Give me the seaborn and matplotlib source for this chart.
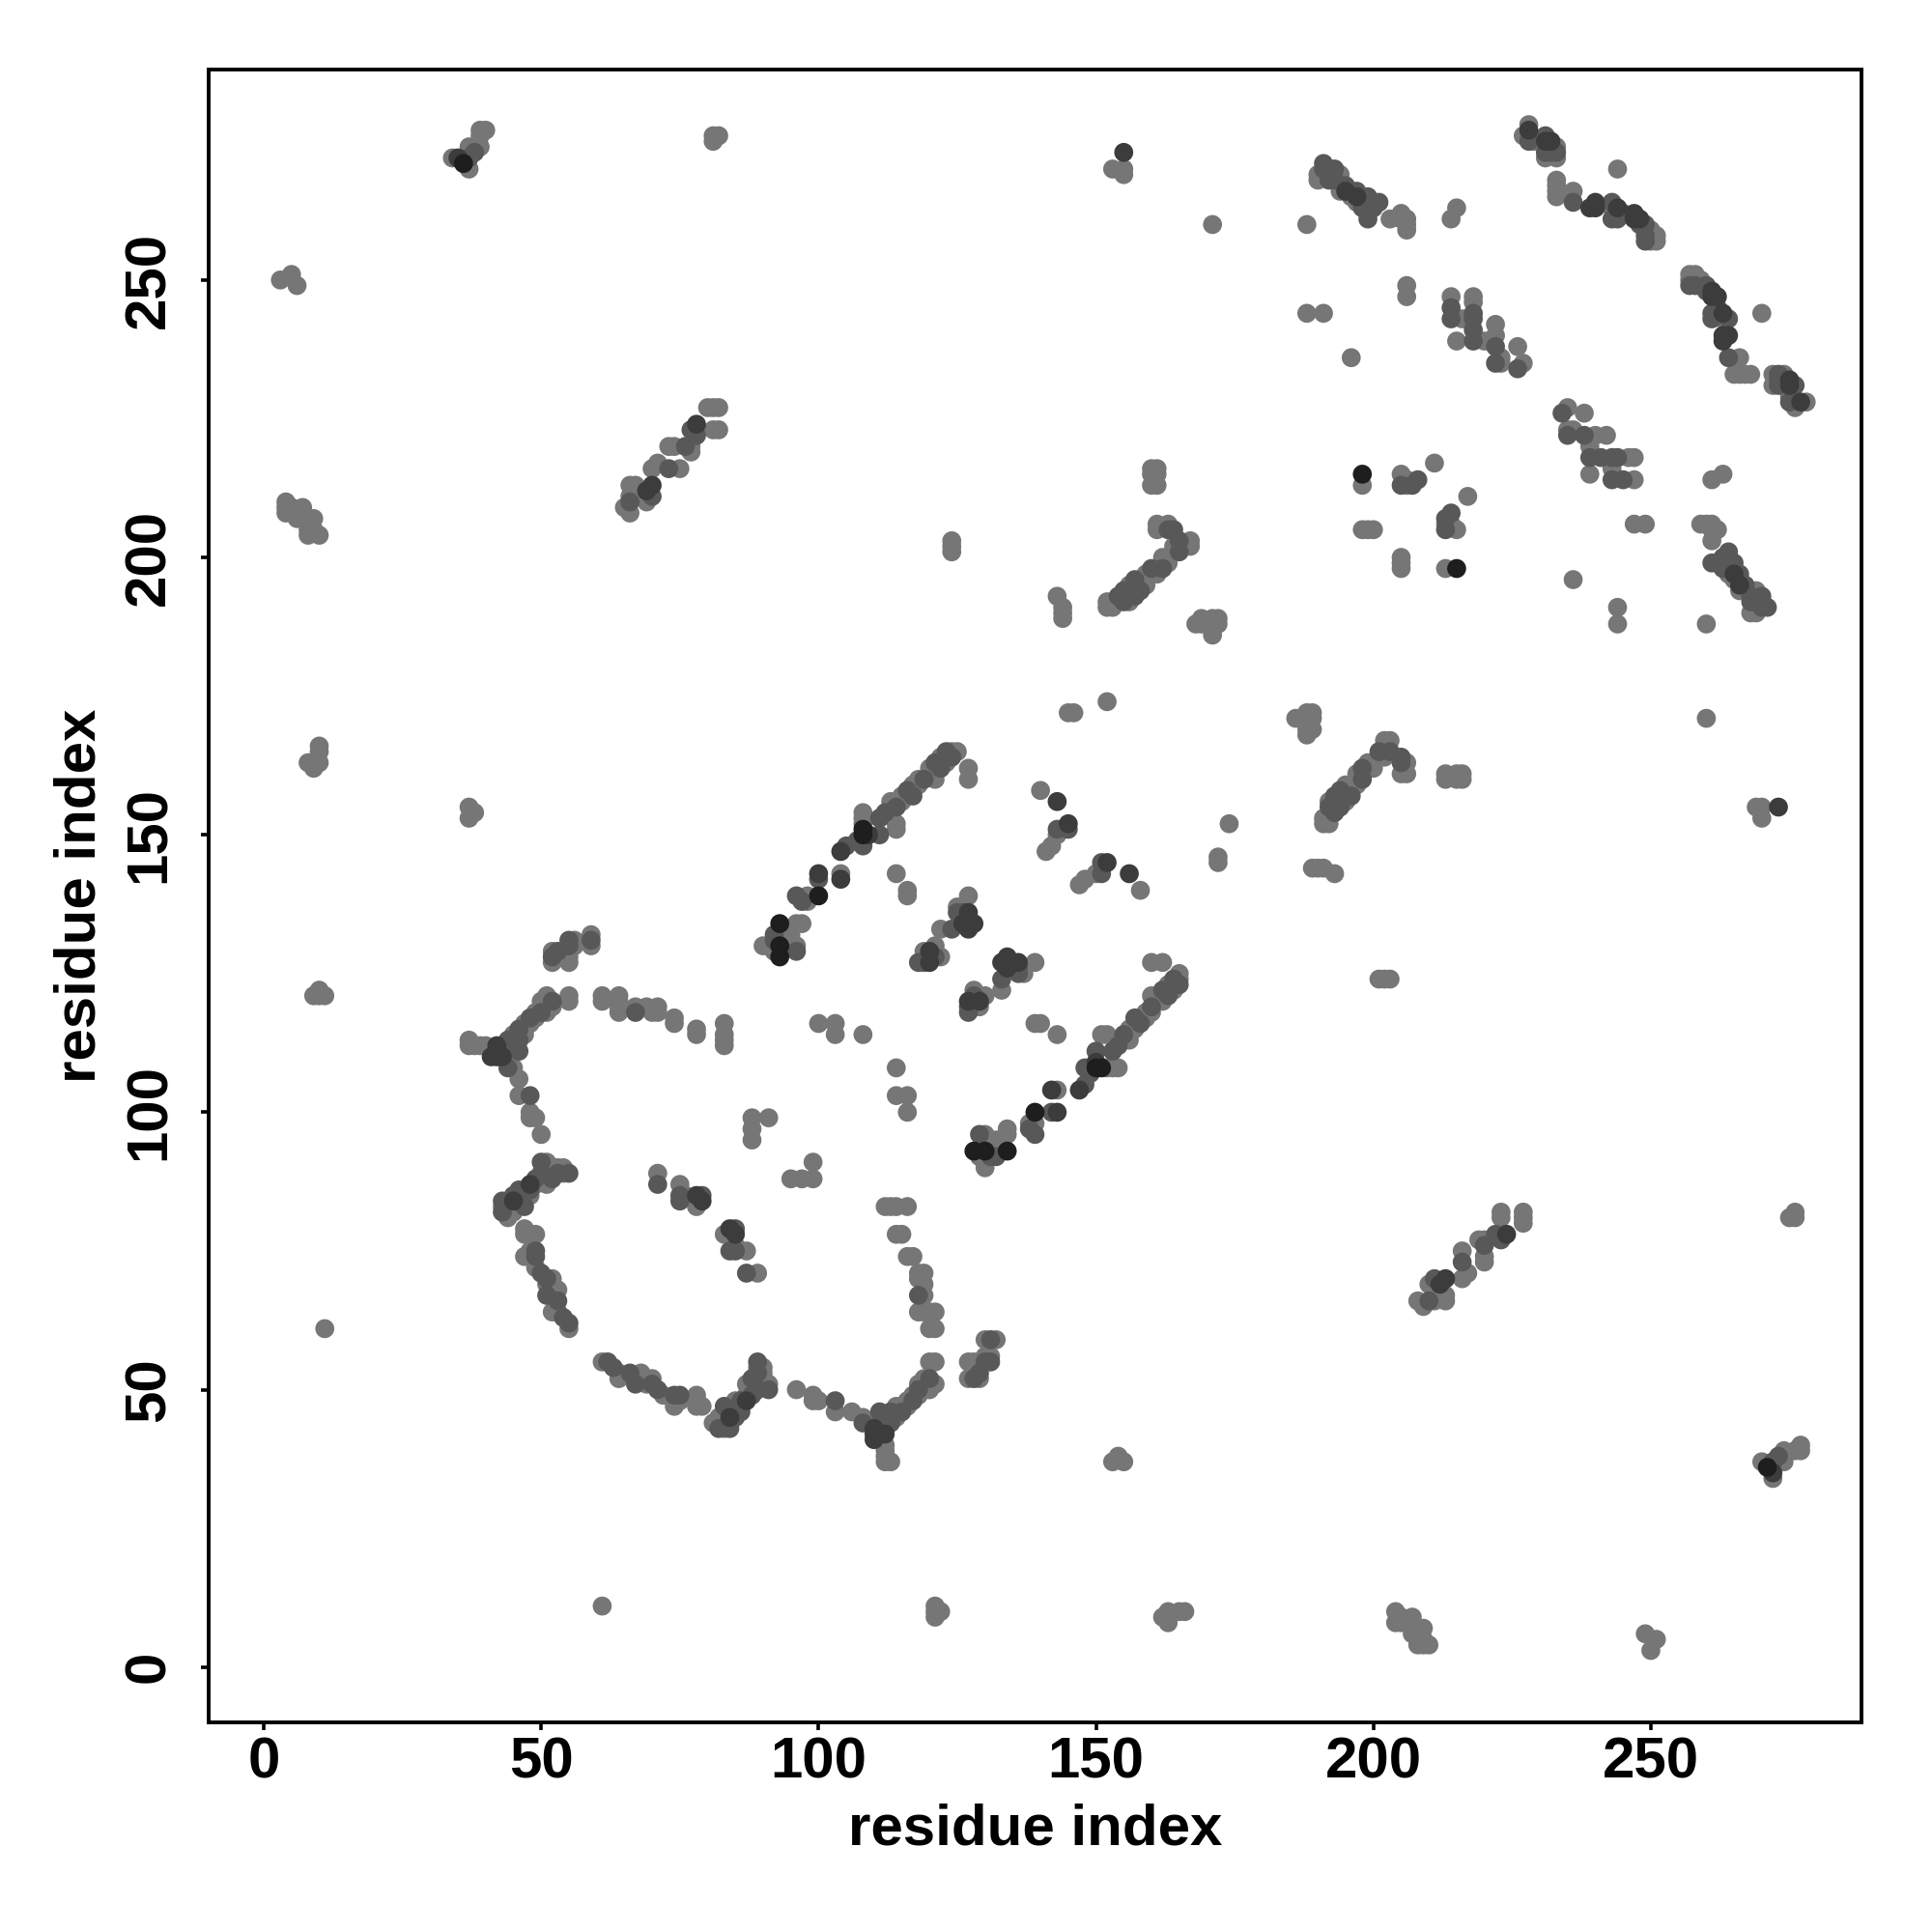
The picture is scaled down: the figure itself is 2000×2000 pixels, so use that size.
import matplotlib
matplotlib.use("Agg")
import matplotlib.pyplot as plt
import pandas as pd
import seaborn as sns

tick_values = [0, 50, 100, 150, 200, 250]
axis_label = "residue index"

contacts_far_corners = [
(34,272),(35,272),(36,271),(37,272),(37,274),(37,270),(38,273),(38,274),(39,274),(39,276),(39,277),(40,277),
(81,276),(81,275),(82,276),(3,250),(5,251),(6,249),
(4,210),(4,209),(4,208),(5,209),(6,207),(6,208),(7,209),(7,207),(8,205),(8,204),(9,207),(9,205),(10,204),
(8,163),(9,162),(10,163),(10,165),(10,166),(37,155),(37,153),(38,154),(9,121),(10,121),(10,122),(11,121),(11,61),
(153,270),(155,269),(155,273),(155,270),(171,260),
]
contacts_strand_a = [
(65,209),(66,208),(66,210),(66,211),(66,213),(67,211),(67,213),(69,210),(69,212),(70,213),(70,211),(70,216),(71,217),
(73,216),(73,220),(74,220),(75,216),(76,220),(77,219),(77,220),(77,223),(78,224),(78,222),(80,227),(81,223),(81,227),(82,223),(82,227),
]
contacts_upper_right = [
(188,260),(188,244),(191,244),(196,236),
(190,268),(191,270),(192,268),(192,270),(193,268),(194,269),(194,266),(195,267),(196,265),(197,264),(197,266),(199,262),(199,265),(200,263),(200,264),(201,264),(203,261),(205,261),(206,259),(206,261),
(214,261),(215,263),(206,249),(206,247),
(214,247),(214,245),(214,243),(215,239),(216,243),(218,246),(218,243),(218,241),(218,239),(220,239),(222,242),(222,238),(222,235),(223,235),(226,238),(226,234),(227,235),
(227,276),(228,277),(229,275),(231,273),(231,275),(232,275),(233,273),(233,267),(233,265),(236,266),(236,264),(239,263),(240,263),(243,263),(243,261),(244,270),(244,263),(245,262),(247,261),(248,260),(249,258),(250,259),(250,257),(251,258),(251,257),(249,257),
(257,250),(258,249),(259,250),(260,249),(261,248),(261,244),(262,247),(263,244),(263,240),(264,243),(264,240),(264,236),(266,236),(266,233),(268,233),(270,244),
(272,231),(272,233),(273,232),(274,233),(275,232),(275,228),(276,227),(277,228),(276,231),(278,228),
(234,226),(235,222),(235,227),(236,223),(238,226),(238,222),(239,218),(239,215),(240,222),(242,222),(243,218),(243,214),(244,218),(247,218),(247,214),(245,214),(247,206),(249,206),
(260,206),(261,214),(263,215),(262,205),(261,203),(261,199),(262,199),(263,198),(264,200),(265,197),(266,197),(266,195),(267,195),(268,193),(269,190),(270,193),(271,191),(260,188),(260,171),
(236,196),(244,191),(244,188),
(198,215),(198,213),(198,205),(199,205),(200,205),(205,215),(205,213),(206,214),(207,213),(208,214),(211,217),(205,199),(205,198),(213,198),(215,198),(214,208),(213,207),(213,205),(215,205),(213,206),
]
contacts_middle = [
(160,216),(160,215),(160,213),(161,205),(163,205),(164,205),(165,202),(165,201),(167,202),
(152,191),(152,192),(154,193),(155,192),(156,193),(157,195),(157,193),(158,194),(159,196),(160,198),(161,197),(162,198),(163,199),(164,201),
(143,193),(144,190),(144,189),(124,202),(124,201),(146,172),(145,172),(152,174),
(168,188),(169,189),(171,186),(171,187),(172,189),(172,188),(187,171),(188,169),(189,169),(189,172),(189,171),
(191,153),(192,155),(192,156),(193,157),(194,155),(195,156),(195,159),(196,157),(197,159),(197,161),(198,160),(199,162),(200,162),(202,164),(203,167),(203,165),(205,163),(206,161),(206,163),
(213,161),(215,161),(216,161),(189,144),(191,144),(193,143),(202,124),(203,124),(174,152),(172,146),(172,145),
(140,158),(143,156),(143,151),(145,152),(145,151),(141,147),(142,148),(147,141),(148,142),(150,143),(151,145),(152,145),(156,143),(158,140),
(127,162),(127,160),
]
contacts_band = [
(90,130),(92,129),(92,131),(93,128),(93,130),(93,134),(94,130),(96,129),(96,134),(97,134),(97,138),(98,138),(100,143),(100,142),(100,139),(104,142),(104,147),(105,148),(108,150),(108,153),(109,150),(111,150),(112,154),(113,155),(114,155),(114,152),(115,156),(116,158),(117,157),(118,159),(119,160),(120,161),(121,160),(122,162),(123,163),(124,164),(125,165),(124,165),
(114,143),(116,139),
(119,127),(120,127),(120,129),(121,128),(122,128),(124,133),(125,136),(126,134),(126,136),(127,133),(127,136),(127,139),(128,134),(127,120),(127,118),(128,121),(129,120),(129,119),(130,121),
(133,122),(133,124),(133,127),(134,126),(135,127),(136,125),(137,125),(139,127),(140,116),(143,114),
(128,93),(129,92),(130,91),(130,96),(130,90),(131,92),(132,95),(132,92),(134,93),(134,97),(139,96),(139,98),(142,100),(142,104),(143,104),(143,100),(147,104),(148,108),(149,107),(150,111),(151,108),(151,114),(152,108),(153,111),(154,112),(154,108),(155,114),(156,113),(157,115),(158,116),(159,117),(160,118),(160,127),(162,127),(162,120),(163,121),(164,122),(165,123),
]
contacts_lobe = [
(37,112),(38,112),(40,112),(41,110),(42,110),(43,111),(44,112),(45,114),(45,113),(46,113),(47,115),(47,116),(48,117),(49,118),(50,118),(51,118),(52,119),(52,120),(55,120),(52,129),(52,128),(55,128),(55,130),(56,130),(59,131),(59,130),
(61,120),(64,120),(64,118),(67,118),(70,118),(71,118),(74,116),(78,114),(83,114),(83,112),
(44,108),(45,108),(46,106),(46,103),(48,103),(48,100),(49,99),(50,96),
(43,83),(43,82),(44,83),(45,82),(45,85),(46,84),(46,86),(47,85),(48,86),(49,87),(50,88),(50,89),(51,90),(52,88),(53,90),(54,89),(55,89),
(47,78),(48,75),(49,78),(49,75),(49,74),(50,71),(51,70),(52,70),(51,67),(52,68),(53,68),(53,66),(53,64),(54,63),(55,62),(55,61),
(61,55),(62,55),(63,54),(64,53),(64,52),(67,52),(67,51),(68,52),(69,51),(71,50),(72,49),(74,47),(74,49),(75,49),(78,48),(79,47),(81,44),(82,44),(83,47),(84,43),(84,45),(85,48),(86,46),(87,48),(87,51),(88,49),(88,51),(89,53),(90,54),(90,52),(91,51),(91,50),(96,50),(99,48),(100,48),(103,48),(103,46),(106,46),(108,45),(110,43),(110,41),(111,46),(111,44),(112,42),(112,39),(113,37),(112,37),(113,44),(114,45),(114,47),(115,46),(116,48),(117,49),(118,50),(119,51),(120,50),(120,52),(121,51),(121,55),
(113,83),(116,83),(115,78),(117,74),(119,71),(119,69),(119,67),(119,64),(121,64),(121,61),
(127,55),(127,52),(129,52),(129,53),(130,59),(130,56),(131,55),(132,59),(131,56),
(71,89),(71,87),(75,85),(75,87),(76,85),(78,85),(79,85),(83,78),(84,79),(84,75),(85,78),(87,75),(87,71),(89,71),
(88,99),(88,95),(91,99),(95,88),(97,88),(99,91),(99,88),
(100,116),(103,114),(103,116),(108,114),(114,108),(114,103),(116,103),(116,100),
]

shade_black = [(93,134),(93,128),(100,139),(93,130),(108,150),(108,151),(134,93),(36,271),(198,215),(215,198)]
shade_dark = [(109,150),(155,273),(228,277),(231,275),(232,275),(239,263),(240,263),(263,240),(263,244),(264,240),
              (247,261),(261,248),(262,247),(272,232),(275,232),(195,266),(197,265),(35,272),(78,224),(127,136),(128,134),
              (120,127),(120,129),(133,127),(134,126),(129,120),(143,156),(145,152),(104,142),(104,147),(100,143),
              (84,79),(85,78),(70,213),(69,212),(110,41),(110,43),(112,42),(84,45),(87,48),(41,110),(42,110),(155,273)]
shade_mid = [(37,272),(38,273),(66,210),(70,211),(73,216),(77,223),(78,222),(76,220),(191,270),(192,268),(195,267),(197,266),(199,265),
             (200,263),(201,264),(214,245),(218,243),(218,241),(222,238),(222,235),(226,234),(231,273),(233,273),(236,264),(243,261),
             (244,263),(245,262),(248,260),(249,257),(258,249),(260,249),(261,244),(264,243),(264,236),(273,232),(276,231),(275,228),
             (235,222),(238,222),(239,218),(243,218),(244,218),(243,214),(261,199),(263,198),(264,200),(266,197),(268,193),(270,193),(271,191),
             (213,207),(214,208),(205,213),(207,213),(154,193),(157,193),(158,194),(160,198),(162,198),(165,201),(164,205),
             (192,155),(194,155),(196,157),(198,160),(203,165),(205,163),(143,151),(151,145),(152,145),
             (92,131),(96,129),(97,138),(105,148),(111,150),(112,154),(114,155),(117,157),(119,160),(122,162),(124,164),
             (124,133),(126,136),(127,133),(119,127),(121,128),(128,121),(127,118),(133,124),(136,125),
             (132,92),(131,92),(139,96),(142,100),(147,104),(149,107),(153,111),(155,114),(158,116),(163,121),(165,123),
             (43,111),(44,112),(46,113),(48,117),(50,118),(52,120),(52,128),(55,130),(59,131),(67,118),
             (44,108),(48,103),(43,82),(45,85),(46,84),(48,86),(50,89),(52,88),(55,89),(49,75),(51,70),(53,66),(55,62),
             (63,54),(67,51),(71,50),(74,49),(83,47),(84,43),(86,46),(88,49),(89,53),(91,50),(111,46),(113,44),(115,46),(118,50),(120,52),
             (75,85),(78,85),(79,85),(84,75),(87,71),(129,53),(131,55),(148,108),(216,74)]

all_pairs = (contacts_far_corners + contacts_strand_a + contacts_upper_right
             + contacts_middle + contacts_band + contacts_lobe)


def canon(p):
    return (min(p), max(p))


shade_of = {}
for name, pairs in [("mid", shade_mid), ("dark", shade_dark), ("black", shade_black)]:
    for p in pairs:
        shade_of[canon(p)] = name

half = pd.DataFrame(sorted({canon(p) for p in all_pairs}), columns=["i", "j"])
half["shade"] = [shade_of.get((a, b), "base") for a, b in zip(half["i"], half["j"])]
full = pd.concat([half, half.rename(columns={"i": "j", "j": "i"})], ignore_index=True)
shade_rank = {"base": 0, "mid": 1, "dark": 2, "black": 3}
full["rank"] = full["shade"].map(shade_rank)
full = full.sort_values(["rank", "j", "i"]).reset_index(drop=True)

shade_colors = {"base": "#767676", "mid": "#585858", "dark": "#3c3c3c", "black": "#1e1e1e"}

sns.set_theme(style="white")
plt.rcParams["font.family"] = ["Liberation Sans", "DejaVu Sans"]

fig = plt.figure(figsize=(10, 10), dpi=200)
ax = fig.add_axes([0.1078, 0.1084, 0.8558, 0.8558])
sns.scatterplot(data=full, x="i", y="j", hue="shade", palette=shade_colors,
                s=50, linewidth=0, legend=False, ax=ax)

ax.set_xlim(-10, 288)
ax.set_ylim(-10, 288)
ax.set_xticks(tick_values)
ax.set_yticks(tick_values)
ax.tick_params(axis="both", direction="out", length=3, width=1.3, color="black",
               labelsize=21.6, labelcolor="black", bottom=True, left=True)
ax.tick_params(axis="x", pad=2.2)
ax.tick_params(axis="y", pad=9)
for lab in ax.get_xticklabels():
    lab.set_fontweight("bold")
for lab in ax.get_yticklabels():
    lab.set_fontweight("bold")
    lab.set_rotation(90)
    lab.set_va("center")
ax.set_xlabel(axis_label, fontsize=21.6, fontweight="bold", color="black", labelpad=5)
ax.set_ylabel(axis_label, fontsize=21.6, fontweight="bold", color="black", labelpad=6)
for s in ax.spines.values():
    s.set_visible(True)
    s.set_color("black")
    s.set_linewidth(1.4)

fig.savefig("out.png", dpi=200, facecolor="white")
